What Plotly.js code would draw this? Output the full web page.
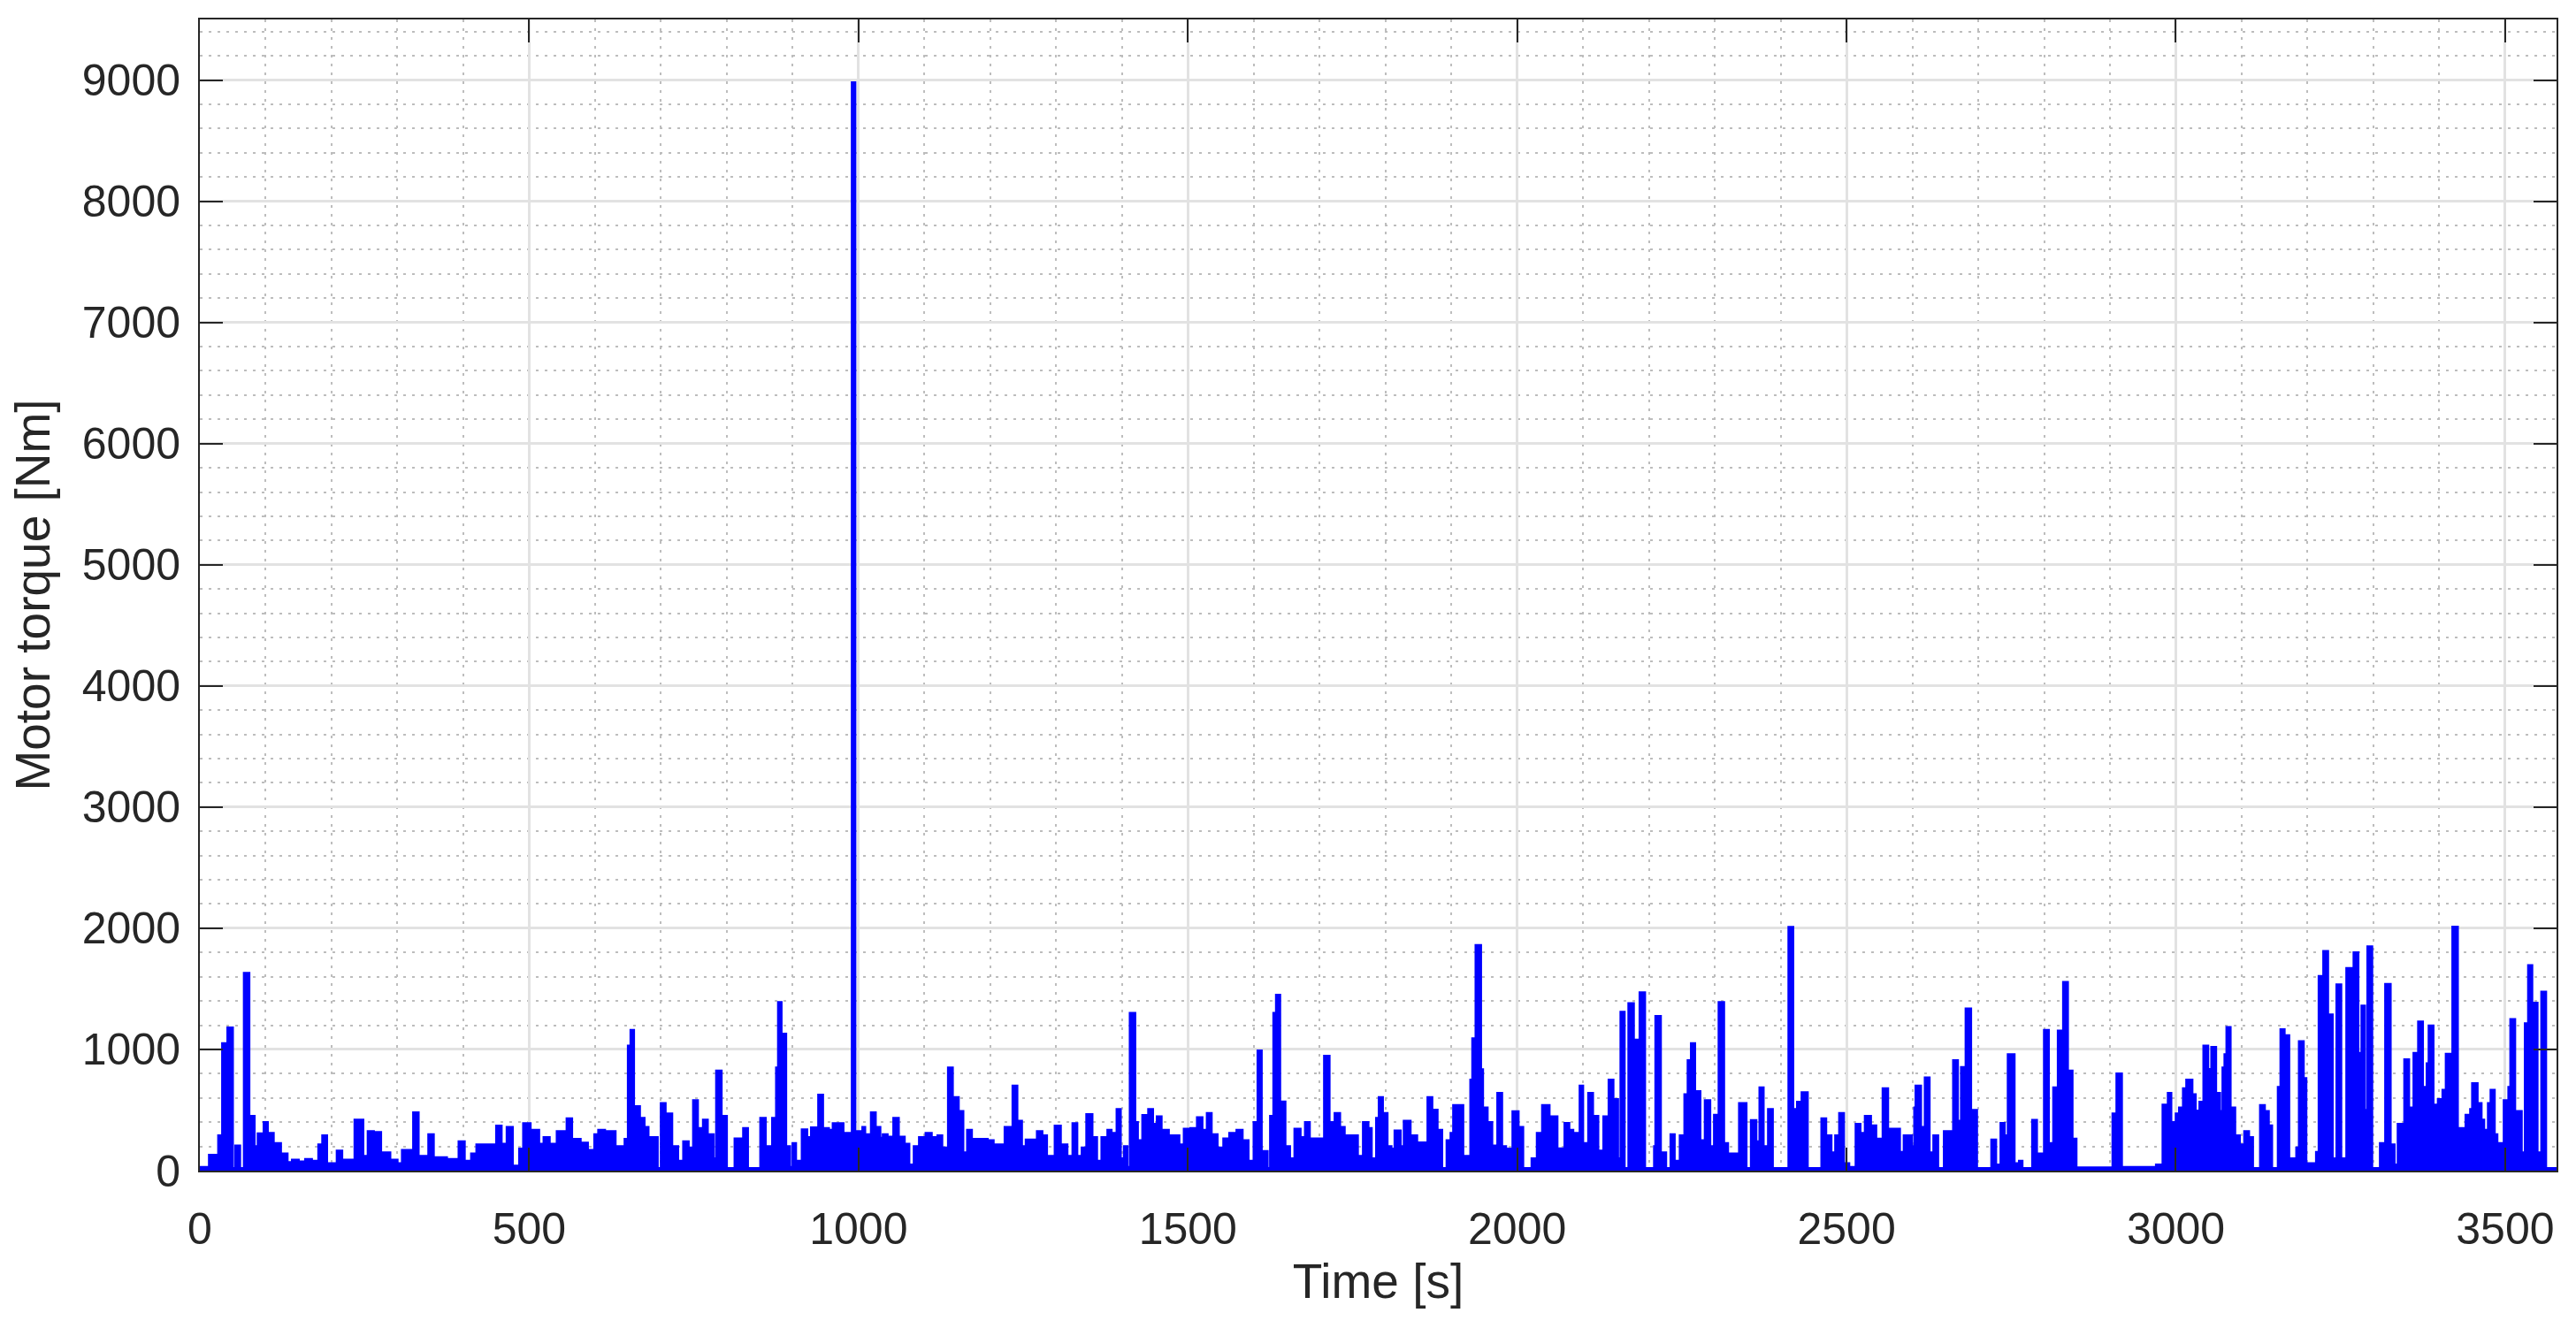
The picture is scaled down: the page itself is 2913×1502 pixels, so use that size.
<!DOCTYPE html>
<html>
<head>
<meta charset="utf-8">
<script src="https://cdn.plot.ly/plotly-3.0.1.min.js"></script>
<style>html,body{margin:0;padding:0;background:#fff;}#chart{width:2913px;height:1502px;}</style>
</head>
<body>
<div id="chart"></div>
<script>
// Motor torque [Nm] vs time [s]; each value holds from its time until the next time
const time1 = [0,14,28,34,42, 50,54,61,67,75, 83,88,97,103,112, 123,133,140,150,160, 170,180,186,193,208, 216,235,248,255,264, 275,289,300,307,324, 332,347,355,375,393, 402,412,420,450,458, 466,475,485,491,502, 515,522,531,542,557, 565,578,589,599];
const torque1 = [30,130,290,1050,1180, 20,207,20,1630,450, 200,307,400,310,227, 140,70,90,75,95, 80,215,290,60,165, 90,420,120,325,317, 150,90,60,170,480, 120,300,110,95,240, 80,140,215,370,220, 360,40,180,390,335, 220,275,220,325,430, 260,230,170,300];

const time2 = [605,615,631,645,650, 654,659,668,675,681, 695,700,707,717,726, 734,742,749,756,764, 771,780,784,792,800, 812,825,832,851,859, 869,875,878,883,890, 896,900,905,914,922, 928,939,946,955,961, 977,990,995,1006,1010, 1019,1026,1033,1037,1044, 1053,1061,1070,1077,1084, 1092,1102,1111,1120,1127, 1136,1143,1152,1159,1165, 1172,1196];
const torque2 = [335,325,200,260,1030, 1160,530,435,360,275, 20,556,470,200,80, 240,190,580,350,420, 300,100,825,450,20, 265,350,20,435,200, 435,850,1390,1130,200, 30,227,80,340,275, 355,625,350,335,390, 310,8980,325,360,300, 480,360,270,300,280, 435,280,220,50,200, 275,310,275,290,190, 850,605,490,150,335, 260,250];

const time3 = [1205,1222,1234,1241,1248, 1254,1271,1279,1286,1298, 1307,1317,1325,1332,1339, 1346,1355,1362,1369,1378, 1384,1392,1398,1403,1408, 1412,1420,1424,1431,1440, 1447,1453,1460,1471,1487, 1494,1504,1514,1522,1529, 1536,1545,1554,1563,1574, 1583,1592,1600,1606,1612, 1621,1625,1630,1634,1640, 1648,1655,1662,1671,1678, 1685,1707,1715,1723,1731, 1738,1758,1766,1774,1779, 1786,1790,1796,1803];
const torque3 = [215,360,700,410,200, 255,325,290,120,370, 215,120,390,120,190, 465,275,80,275,335, 310,507,100,200,30, 1300,400,250,458,507, 385,446,335,290,215, 345,350,440,335,475, 300,190,265,310,335, 250,80,400,990,160, 20,450,1300,1450,570, 200,100,345,275,400, 265,946,400,475,360, 290,120,400,350,100, 435,605,475,200];

const time4 = [1809,1814,1823,1828,1838, 1848,1861,1864,1871,1879, 1886,1893,1899,1903,1918, 1929,1932,1937,1945,1948, 1955,1962,1970,1977,1983, 1990,1993,2002,2009,2022, 2030,2038,2049,2061,2072, 2079,2085,2095,2100,2108, 2115,2123,2131,2139,2146, 2153,2157,2163,2169,2177, 2183,2186,2194,2208,2210, 2218,2226,2233,2239,2247, 2254,2259,2264,2270,2278, 2285,2293,2299,2306,2314, 2320,2337,2348,2355,2363, 2368,2374,2381,2388];
const torque4 = [180,330,200,410,290, 232,100,605,502,335, 20,250,310,540,120, 750,1090,1860,835,520, 400,207,640,200,180, 100,488,360,20,100, 310,540,446,183,392, 335,310,700,227,640, 450,165,446,750,590, 100,1310,20,1380,1080, 275,1470,20,200,1275, 150,20,300,80,290, 630,910,1050,655,250, 580,200,460,1390,227, 140,556,20,415,240, 685,200,507,20];

const time5 = [2412,2419,2425,2432,2441, 2462,2469,2477,2483,2489, 2496,2504,2514,2521,2528, 2537,2545,2555,2563,2581, 2587,2599,2603,2605,2613, 2619,2626,2632,2639,2648, 2662,2669,2674,2681,2689, 2698,2720,2727,2734,2740, 2745,2755,2762,2767,2782, 2789,2800,2807,2814,2821, 2829,2836,2843,2849,2904, 2910,2918,2970,2980];
const torque5 = [2010,507,568,646,20, 430,290,150,290,475, 60,30,385,310,450, 373,263,678,344,154, 290,200,520,700,360, 768,150,290,20,325, 910,410,854,1337,500, 20,256,50,393,290, 960,60,80,20,417, 140,1160,227,685,1155, 1556,825,263,25,470, 800,30,50,544];

const time6 = [2988,2993,3000,3005,3011, 3016,3025,3030,3036,3042, 3049,3054,3061,3067,3071, 3074,3077,3083,3090,3097, 3104,3111,3117,3128,3135, 3141,3146,3155,3159,3165, 3172,3183,3187,3194,3198, 3213,3217,3224,3231,3238, 3244,3251,3259,3267,3270, 3277,3282,3287,3291,3298, 3310,3318,3326,3332,3337, 3344,3347,3354,3361,3368, 3375,3381,3384,3391,3398, 3405,3410,3417,3420,3428, 3440,3447,3450,3458,3464, 3468,3474,3478,3484,3488, 3498,3505,3508,3515,3525, 3530,3535,3541,3549,3555, 3562,3578];
const torque6 = [640,400,470,520,678, 750,630,495,568,1030, 837,1020,640,490,850, 960,1183,520,290,215, 325,275,20,540,490, 373,20,690,1166,1117, 100,190,1068,763,60, 154,1605,1812,1288,100, 1536,100,1670,1653,1800, 970,1360,500,1850,20, 227,1540,215,50,385, 270,917,520,970,1230, 690,885,1197,544,590, 666,963,275,2012,350, 460,507,720,556,420, 335,556,666,300,227, 580,690,1250,490,150, 1215,1695,1385,150,1475, 20,20];

const xTitle = 'Time [s]';
const yTitle = 'Motor torque [Nm]';

const timeS = [].concat(time1, time2, time3, time4, time5, time6);
const torqueNm = [].concat(torque1, torque2, torque3, torque4, torque5, torque6);

const axisColor = '#262626';
const fontFam = '"Liberation Sans", Arial, Helvetica, sans-serif';

const trace = {
  x: timeS, y: torqueNm, type: 'scatter', mode: 'lines',
  line: {color: '#0000ff', width: 2.5, shape: 'hv'},
  fill: 'tozeroy', fillcolor: '#0000ff',
  hoverinfo: 'skip', showlegend: false
};

const common = {
  showline: true, linecolor: axisColor, linewidth: 2, mirror: 'ticks',
  ticks: 'inside', ticklen: 26, tickwidth: 2, tickcolor: axisColor,
  showgrid: true, gridcolor: '#e2e2e2', gridwidth: 3, zeroline: false,
  tickfont: {family: fontFam, size: 50, color: axisColor},
  fixedrange: true
};

const layout = {
  width: 2913, height: 1502,
  margin: {l: 226, r: 22, t: 22, b: 178, pad: 0},
  paper_bgcolor: '#ffffff', plot_bgcolor: '#ffffff',
  xaxis: Object.assign({}, common, {
    range: [0, 3578], tick0: 0, dtick: 500, ticklabelstandoff: 21,
    minor: {tick0: 0, dtick: 100, showgrid: true, gridcolor: '#bdbdbd', griddash: '3px,7px', gridwidth: 2, ticks: ''},
    title: {text: xTitle, font: {family: fontFam, size: 55, color: axisColor}, standoff: 12}
  }),
  yaxis: Object.assign({}, common, {
    range: [0, 9500], tick0: 0, dtick: 1000, ticklabelstandoff: 10,
    minor: {tick0: 0, dtick: 200, showgrid: true, gridcolor: '#bdbdbd', griddash: '3px,7px', gridwidth: 2, ticks: ''},
    title: {text: yTitle, font: {family: fontFam, size: 55, color: axisColor}, standoff: 19}
  })
};

Plotly.newPlot('chart', [trace], layout, {staticPlot: true, displayModeBar: false});
</script>
</body>
</html>
